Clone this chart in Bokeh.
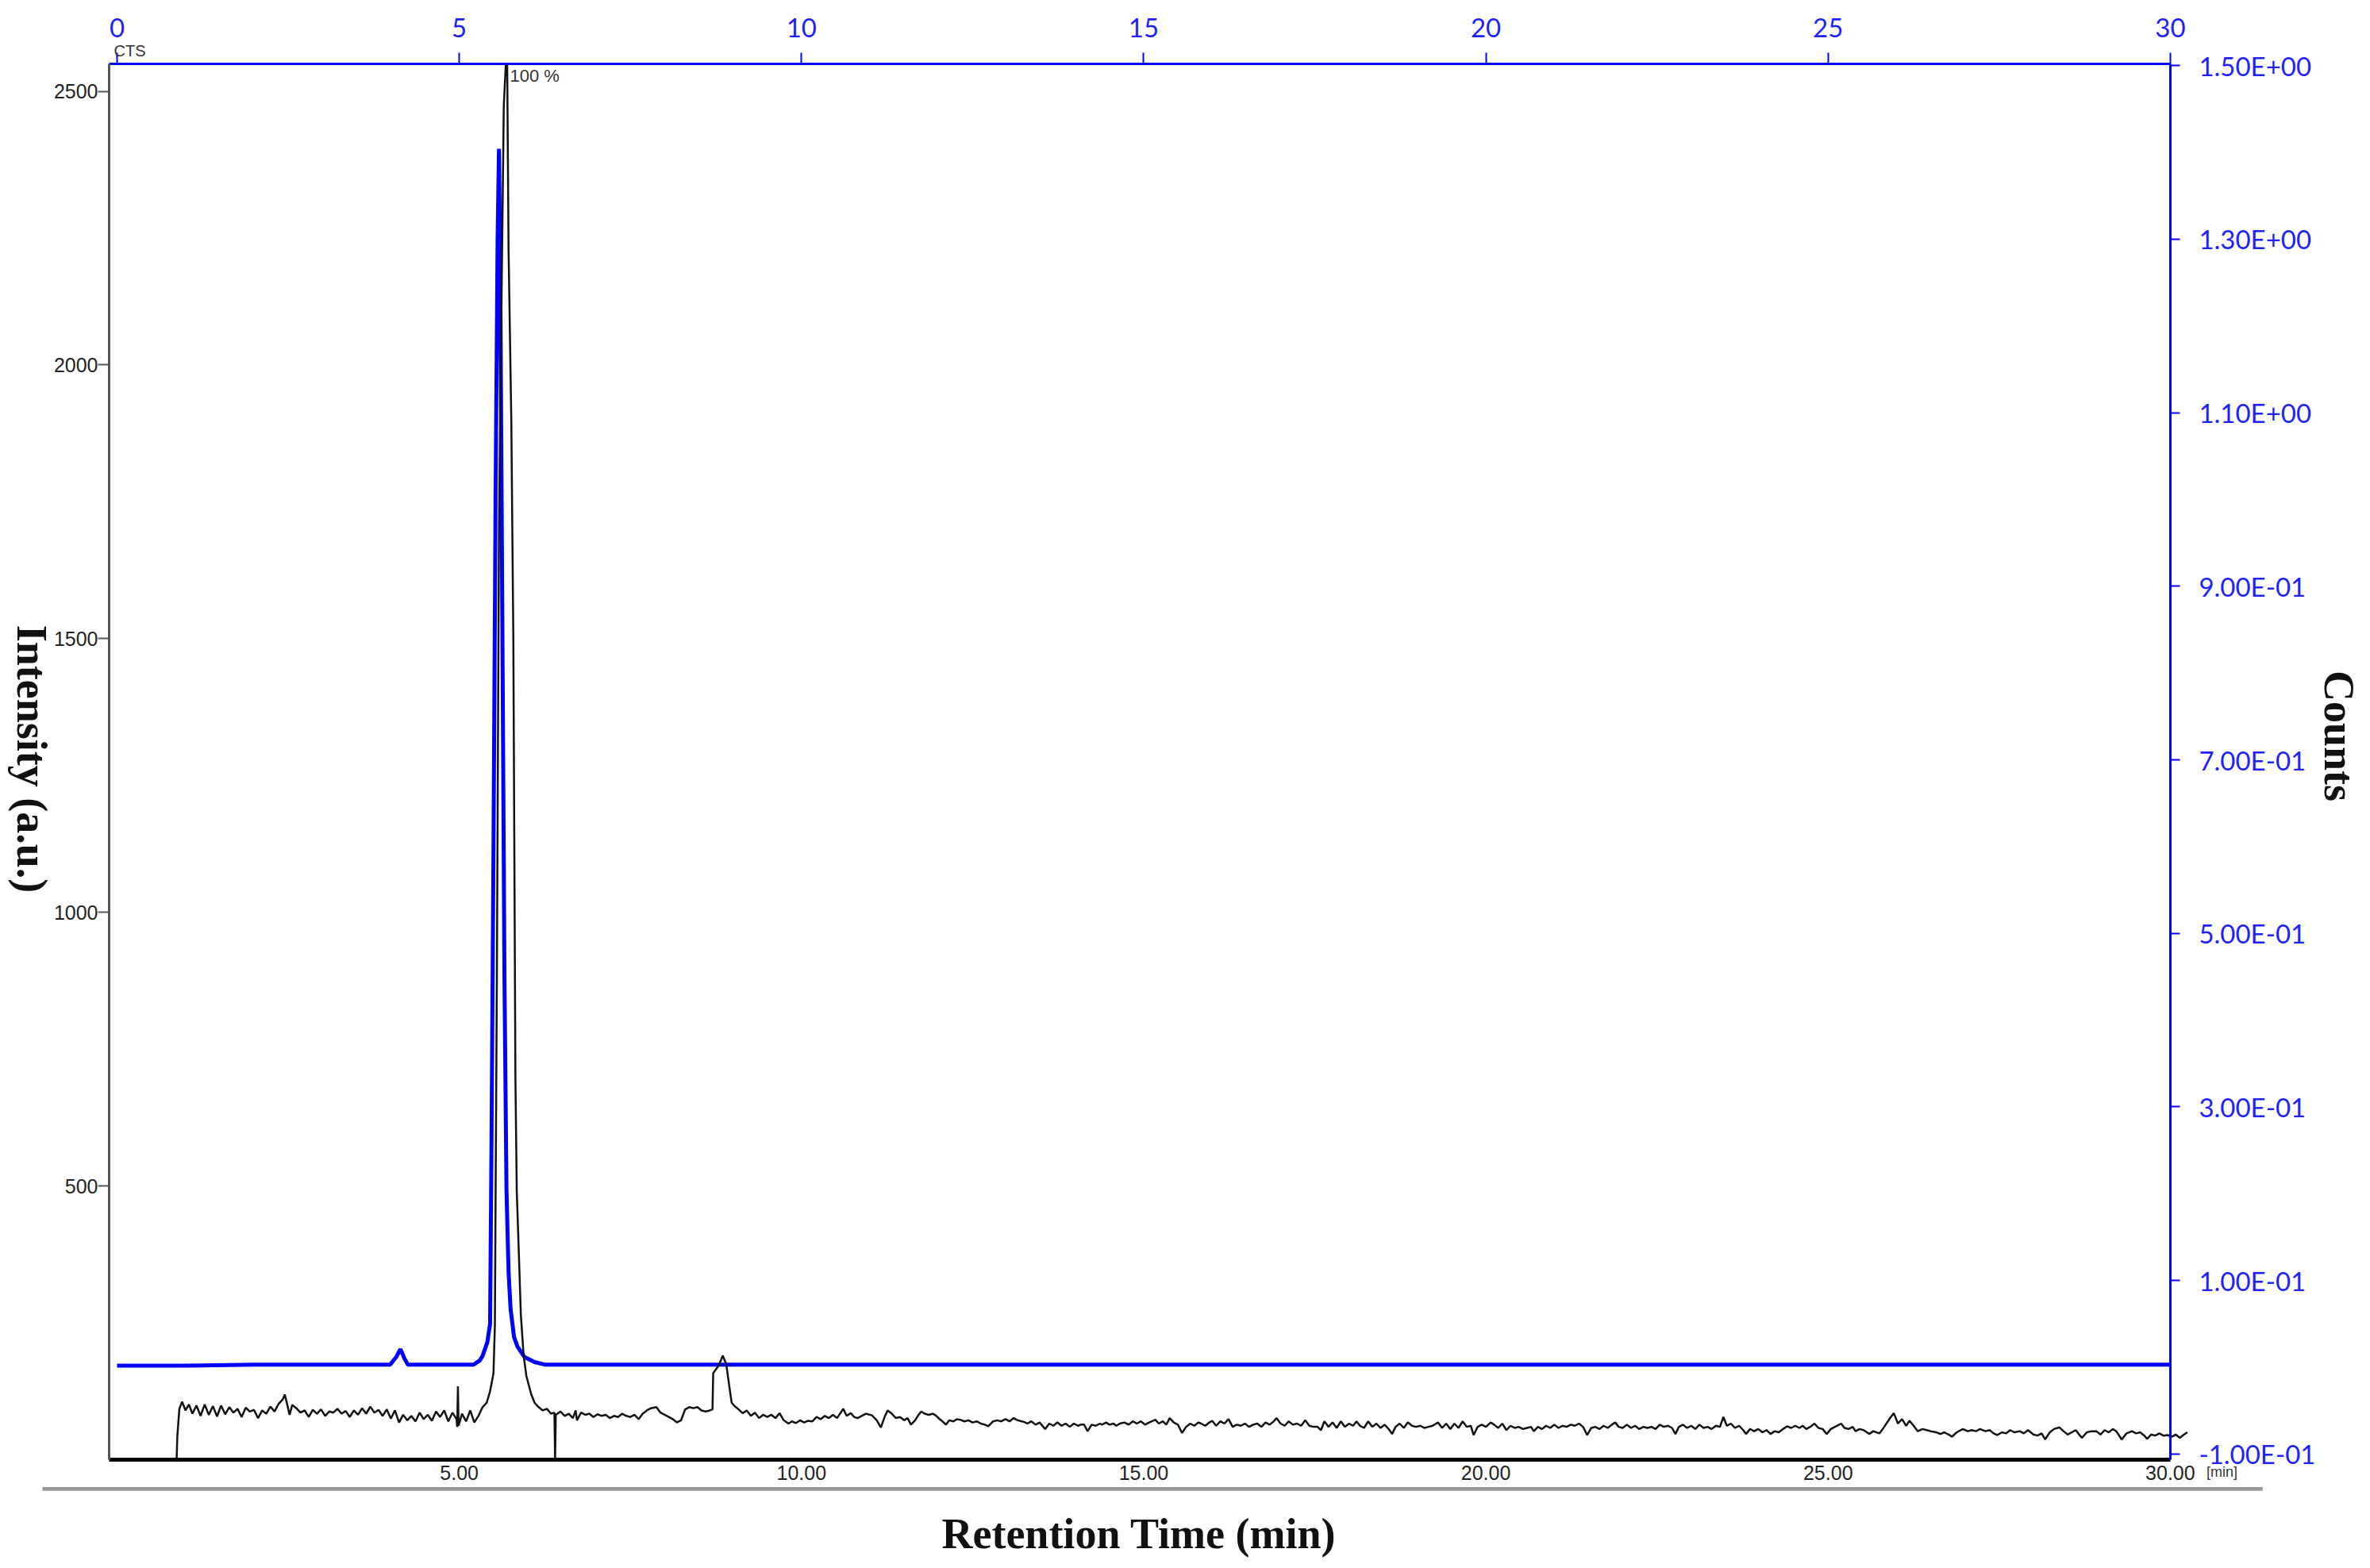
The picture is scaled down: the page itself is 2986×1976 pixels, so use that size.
import math
from bokeh.plotting import figure
from bokeh.models import (LinearAxis, Range1d, FixedTicker, NumeralTickFormatter,
                          CustomJSTickFormatter, Label, BoxAnnotation)
from bokeh.embed import file_html
from bokeh.resources import INLINE

# ---------------- data ----------------
bottom_ticks = [5, 10, 15, 20, 25, 30]
left_ticks = [500, 1000, 1500, 2000, 2500]
top_ticks = [0, 5, 10, 15, 20, 25, 30]
right_ticks = [-0.1, 0.1, 0.3, 0.5, 0.7, 0.9, 1.1, 1.3, 1.5]

black_time = [
    0.87, 0.88, 0.91, 0.95, 1.00, 1.05, 1.10, 1.16, 1.22, 1.28, 1.34, 1.40, 1.46, 1.52, 1.58, 1.64,
    1.70, 1.76, 1.82, 1.88, 1.94, 2.00, 2.06, 2.12, 2.18, 2.24, 2.30, 2.36, 2.42, 2.45, 2.48, 2.52,
    2.56, 2.62, 2.68, 2.74, 2.80, 2.86, 2.92, 2.98, 3.04, 3.10, 3.16, 3.22, 3.28, 3.34, 3.40, 3.46,
    3.52, 3.58, 3.64, 3.70, 3.76, 3.82, 3.88, 3.94, 4.00, 4.06, 4.12, 4.18, 4.24, 4.30, 4.36, 4.42,
    4.48, 4.54, 4.60, 4.66, 4.72, 4.78, 4.84, 4.90, 4.96, 4.97, 4.98, 4.99, 5.04, 5.10, 5.16, 5.22,
    5.28, 5.34, 5.40, 5.45, 5.50, 5.52, 5.55, 5.58, 5.62, 5.65, 5.68, 5.70, 5.72, 5.76, 5.79, 5.82,
    5.84, 5.87, 5.90, 5.94, 5.98, 6.05, 6.10, 6.16, 6.22, 6.28, 6.34, 6.39, 6.40, 6.41,
    6.48, 6.54, 6.60, 6.66, 6.70, 6.72, 6.78, 6.84, 6.90, 6.96, 7.02, 7.08, 7.14, 7.20, 7.26, 7.32,
    7.38, 7.44, 7.50, 7.56, 7.62, 7.68, 7.74, 7.80, 7.88, 7.94, 8.00, 8.06, 8.12, 8.18, 8.24, 8.30,
    8.36, 8.42, 8.48, 8.54, 8.60, 8.66, 8.70, 8.71, 8.79, 8.85, 8.90, 8.95, 8.98, 9.03, 9.08, 9.14,
    9.20, 9.26, 9.32, 9.38, 9.44, 9.50, 9.56, 9.62, 9.68, 9.74, 9.81, 9.86, 9.92, 9.98, 10.04, 10.09,
    10.16, 10.22, 10.28, 10.34, 10.40, 10.46, 10.52, 10.61, 10.66, 10.72, 10.77, 10.82, 10.88, 10.94,
    11.03, 11.10, 11.16, 11.22, 11.26, 11.32, 11.38, 11.44, 11.50, 11.55, 11.60, 11.66, 11.70, 11.75,
    11.80, 11.86, 11.92, 11.96, 12.02, 12.06, 12.11, 12.16, 12.22, 12.27, 12.32, 12.38, 12.44, 12.50,
    12.56, 12.62, 12.68, 12.73, 12.80, 12.86, 12.92, 12.98, 13.04, 13.10, 13.16, 13.22, 13.25, 13.30,
    13.36, 13.42, 13.48, 13.56, 13.62, 13.68, 13.74, 13.80, 13.86, 13.92, 13.98, 14.04, 14.08, 14.13,
    14.18, 14.24, 14.30, 14.36, 14.39, 14.45, 14.50, 14.56, 14.60, 14.65, 14.72, 14.78, 14.84, 14.90,
    14.96, 15.02, 15.08, 15.17, 15.22, 15.28, 15.33, 15.38, 15.44, 15.50, 15.56, 15.62, 15.68, 15.74,
    15.80, 15.84, 15.90, 15.96, 16.00,
    16.06, 16.12, 16.18, 16.24, 16.30, 16.36, 16.42, 16.48, 16.54, 16.60, 16.66, 16.72, 16.78, 16.84,
    16.90, 16.94, 17.00, 17.06, 17.12, 17.18, 17.24, 17.30, 17.36, 17.42, 17.48, 17.54, 17.59, 17.64,
    17.70, 17.76, 17.82, 17.88, 17.94, 18.00, 18.06, 18.11, 18.16, 18.22, 18.28, 18.34, 18.40, 18.46,
    18.52, 18.58, 18.63, 18.68, 18.74, 18.80, 18.86, 18.92, 18.98, 19.04, 19.10, 19.16, 19.22, 19.30,
    19.36, 19.42, 19.48, 19.54, 19.60, 19.66, 19.72, 19.78, 19.82, 19.88, 19.94, 20.00, 20.07, 20.12,
    20.18, 20.24, 20.30, 20.36, 20.42, 20.48, 20.54, 20.60, 20.66, 20.70, 20.76, 20.82, 20.88, 20.94,
    21.00, 21.06, 21.12, 21.18, 21.24, 21.30, 21.36, 21.42, 21.48, 21.54, 21.60, 21.66, 21.72, 21.78,
    21.84, 21.89, 21.94, 22.00, 22.06, 22.12, 22.18, 22.24, 22.30, 22.36, 22.42, 22.48, 22.54, 22.60,
    22.66, 22.72, 22.77, 22.82, 22.88, 22.94, 23.00, 23.06, 23.12, 23.18, 23.24, 23.30, 23.36, 23.42,
    23.47, 23.52, 23.58, 23.64, 23.70, 23.76, 23.80, 23.86, 23.92, 23.98, 24.04, 24.10, 24.16,
    24.22, 24.28, 24.34, 24.40, 24.46, 24.52, 24.58, 24.63, 24.68, 24.74, 24.80, 24.86, 24.92, 24.98,
    25.04, 25.10, 25.19, 25.24, 25.30, 25.36, 25.40, 25.46, 25.52, 25.60, 25.66, 25.75, 25.82, 25.90,
    25.96, 26.02, 26.08, 26.14, 26.19, 26.25, 26.31, 26.38, 26.44, 26.50, 26.58, 26.64, 26.70, 26.76,
    26.81, 26.88, 26.97, 27.04, 27.10, 27.16, 27.22, 27.30, 27.36, 27.42, 27.47, 27.54, 27.60, 27.66,
    27.72, 27.80, 27.86, 27.92, 28.00, 28.06, 28.12, 28.17, 28.24, 28.30, 28.38, 28.44, 28.50, 28.56,
    28.62, 28.68, 28.71, 28.78, 28.85, 28.92, 28.98, 29.04, 29.10, 29.16, 29.21, 29.29, 29.36, 29.44,
    29.50, 29.56, 29.62, 29.66, 29.72, 29.78, 29.84, 29.90, 29.96, 30.02, 30.08, 30.14, 30.20, 30.25,
]
black_intensity = [
    0, 42, 93, 106, 90, 101, 84, 99, 80, 101, 82, 98, 79, 99, 83, 96,
    86, 93, 78, 95, 88, 91, 76, 90, 84, 97, 88, 102, 110, 119, 104, 82,
    100, 94, 86, 90, 78, 91, 84, 92, 80, 88, 86, 93, 84, 89, 78, 90,
    82, 94, 84, 97, 86, 91, 80, 92, 75, 90, 68, 82, 72, 80, 70, 86,
    74, 82, 71, 88, 78, 90, 70, 86, 74, 60, 134, 62, 84, 70, 90, 68,
    80, 96, 104, 125, 158, 245, 900, 1700, 2150, 2472, 2550, 2550, 2212, 1900, 1500, 700,
    491, 378, 264, 191, 153, 120, 104, 96, 90, 93, 84, 86, 0, 82,
    88, 80, 84, 76, 90, 72, 86, 82, 84, 78, 83, 80, 82, 76, 80, 78,
    84, 80, 78, 82, 74, 84, 90, 94, 96, 86, 82, 78, 74, 68, 72, 92,
    96, 94, 96, 90, 88, 90, 92, 158, 172, 190, 175, 130, 104, 97, 92, 85,
    90, 80, 86, 76, 82, 78, 82, 76, 85, 72, 66, 70, 67, 72, 68, 71,
    70, 78, 74, 80, 76, 82, 76, 93, 80, 85, 78, 76, 80, 84,
    81, 72, 59, 80, 90, 84, 76, 78, 72, 76, 64, 72, 80, 88,
    84, 82, 84, 81, 74, 70, 64, 72, 70, 74, 73, 70, 72, 68,
    70, 66, 64, 61, 70, 72, 70, 74, 70, 76, 72, 70, 69, 66,
    70, 64, 68, 56, 66, 62, 68, 62, 66, 60, 66, 62, 64, 64,
    52, 64, 62, 66, 64, 68, 64, 66, 62, 66, 68, 64, 70, 66,
    70, 64, 68, 73, 66, 70, 64, 76, 68, 64, 49, 60, 66, 62,
    68, 66, 62, 68, 71,
    62, 70, 66, 74, 60, 64, 62, 66, 60, 64, 66, 60, 68, 64,
    70, 76, 66, 62, 70, 64, 66, 62, 72, 62, 60, 60, 54, 70,
    60, 68, 58, 70, 60, 66, 62, 70, 62, 58, 70, 60, 66, 58,
    64, 56, 47, 60, 66, 58, 68, 62, 60, 62, 58, 60, 62, 68,
    58, 66, 56, 66, 58, 70, 60, 62, 45, 60, 64, 60, 68, 64,
    58, 66, 54, 62, 58, 60, 56, 58, 60, 52, 60, 56, 62, 58,
    64, 58, 62, 60, 64, 62, 66, 60, 45, 58, 60, 56, 62, 58,
    64, 68, 60, 58, 64, 58, 62, 56, 60, 58, 60, 56, 64, 60,
    62, 58, 47, 60, 64, 58, 62, 56, 64, 58, 60, 56, 62, 60,
    78, 62, 66, 58, 62, 54, 47, 56, 52, 56, 50, 54, 47,
    52, 50, 56, 61, 58, 62, 58, 62, 56, 60, 66, 58, 56, 47,
    56, 60, 66, 58, 56, 60, 52, 56, 54, 47, 52, 48, 60, 75,
    85, 66, 74, 62, 71, 62, 52, 56, 54, 52, 50, 47, 50, 46,
    42, 50, 56, 52, 54, 52, 56, 52, 54, 48, 45, 50, 48, 54,
    50, 52, 48, 54, 46, 44, 48, 37, 50, 56, 59, 52, 46, 50,
    54, 44, 40, 50, 52, 52, 46, 54, 50, 56, 52, 37, 48, 52,
    48, 50, 44, 38, 46, 44, 48, 44, 45, 42, 46, 40, 46, 50,
]

blue_time = [0.0, 1.0, 2.0, 3.0, 3.99, 4.08, 4.14, 4.20, 4.25, 5.00, 5.21, 5.30, 5.34, 5.41,
             5.45, 5.47, 5.50, 5.53, 5.56, 5.58, 5.60, 5.63, 5.66, 5.69, 5.72, 5.75, 5.80, 5.85,
             5.95, 6.10, 6.26, 8.0, 10.0, 15.0, 20.0, 25.0, 30.0]
blue_counts = [0.002, 0.002, 0.003, 0.003, 0.003, 0.012, 0.021, 0.010, 0.003, 0.003, 0.003, 0.008,
               0.013, 0.029, 0.050, 0.250, 0.600, 1.000, 1.300, 1.404, 1.250, 0.850, 0.450, 0.204,
               0.110, 0.067, 0.035, 0.024, 0.012, 0.006, 0.003, 0.003, 0.003, 0.003, 0.003, 0.003,
               0.003]

# axis extents of the chromatogram box (data units)
X_START, X_END = -0.116, 30.0
I_TOP = 2550
C_BOTTOM, C_TOP = -0.1064, 1.5018

BLUE = "#0000ff"
BLUE_TXT = "#1f1fff"

p = figure(width=2980, height=1970, output_backend="svg", toolbar_location=None,
           x_range=Range1d(-1.7048, 32.854), y_range=Range1d(-189.9, 2666.0),
           x_axis_location=None, y_axis_location=None,
           min_border=0, min_border_left=0, min_border_right=0,
           min_border_top=0, min_border_bottom=0)
p.outline_line_color = None
p.xgrid.visible = False
p.ygrid.visible = False
p.background_fill_color = "white"
p.border_fill_color = "white"
p.extra_y_ranges = {"blue": Range1d(-0.2262, 1.575)}

# black axes (bottom & left)
bottom = LinearAxis(ticker=FixedTicker(ticks=bottom_ticks), formatter=NumeralTickFormatter(format="0.00"),
                    fixed_location=0, bounds=(X_START, X_END))
bottom.axis_line_color = "#000000"
bottom.axis_line_width = 5
bottom.major_tick_out = 0
bottom.major_tick_in = 0
bottom.minor_tick_out = 0
bottom.minor_tick_in = 0
bottom.major_label_standoff = 7
bottom.major_label_text_font = "Liberation Sans"
bottom.major_label_text_font_size = "25px"
bottom.major_label_text_color = "#222222"
p.add_layout(bottom, "below")

left = LinearAxis(ticker=FixedTicker(ticks=left_ticks), fixed_location=X_START, bounds=(0, I_TOP))
left.axis_line_color = "#555555"
left.axis_line_width = 3
left.major_tick_line_color = "#555555"
left.major_tick_line_width = 2
left.major_tick_out = 14
left.major_tick_in = 0
left.minor_tick_out = 0
left.minor_tick_in = 0
left.major_label_standoff = 0
left.major_label_text_font = "Liberation Sans"
left.major_label_text_font_size = "25px"
left.major_label_text_color = "#222222"
p.add_layout(left, "left")

# blue axes (top & right)
top = LinearAxis(ticker=FixedTicker(ticks=top_ticks), fixed_location=I_TOP, bounds=(X_START, X_END))
top.axis_line_color = BLUE
top.axis_line_width = 3
top.major_tick_line_color = BLUE
top.major_tick_line_width = 2
top.major_tick_out = 14
top.major_tick_in = 0
top.minor_tick_out = 0
top.minor_tick_in = 0
top.major_label_standoff = 20
top.major_label_text_font = "Lato"
top.major_label_text_font_size = "33px"
top.major_label_text_color = BLUE_TXT
p.add_layout(top, "above")

fmt = CustomJSTickFormatter(code="""
const s = tick.toExponential(2);
const parts = s.split('e');
const n = parseInt(parts[1]);
const a = Math.abs(n);
return parts[0] + 'E' + (n < 0 ? '-' : '+') + (a < 10 ? '0' : '') + a;
""")
right = LinearAxis(y_range_name="blue", ticker=FixedTicker(ticks=right_ticks), formatter=fmt,
                   fixed_location=X_END, bounds=(C_BOTTOM, C_TOP))
right.axis_line_color = BLUE
right.axis_line_width = 3
right.major_tick_line_color = BLUE
right.major_tick_line_width = 2
right.major_tick_out = 12
right.major_tick_in = 0
right.minor_tick_out = 0
right.minor_tick_in = 0
right.major_label_standoff = 24
right.major_label_text_font = "Lato"
right.major_label_text_font_size = "33px"
right.major_label_text_color = BLUE_TXT
p.add_layout(right, "right")

# traces
p.line(blue_time, blue_counts, y_range_name="blue", line_color=BLUE, line_width=5)
p.line(black_time, black_intensity, line_color="#111111", line_width=2.5)

# grey rule under the axis
p.add_layout(BoxAnnotation(left=-1.09, right=31.35, top=-50, bottom=-57,
                           fill_color="#9a9a9a", fill_alpha=1.0, line_color=None))

# titles and small texts
title_font = "Liberation Serif"
p.add_layout(Label(x=14.93, y=-136, text="Retention Time (min)", text_align="center",
                   text_baseline="middle", text_font=title_font, text_font_style="bold",
                   text_font_size="54px", text_color="#111111"))
p.add_layout(Label(x=-1.25, y=1280, text="Intensity (a.u.)", text_align="center",
                   text_baseline="middle", angle=-math.pi / 2, text_font=title_font,
                   text_font_style="bold", text_font_size="54px", text_color="#111111"))
p.add_layout(Label(x=32.46, y=1322, text="Counts", text_align="center",
                   text_baseline="middle", angle=-math.pi / 2, text_font=title_font,
                   text_font_style="bold", text_font_size="54px", text_color="#111111"))
p.add_layout(Label(x=-0.046, y=2574, text="CTS", text_align="left", text_baseline="middle",
                   text_font="Liberation Sans", text_font_size="20px", text_color="#333333"))
p.add_layout(Label(x=5.74, y=2528, text="100 %", text_align="left", text_baseline="middle",
                   text_font="Liberation Sans", text_font_size="22px", text_color="#333333"))
p.add_layout(Label(x=30.53, y=-23, text="[min]", text_align="left", text_baseline="middle",
                   text_font="Liberation Sans", text_font_size="18px", text_color="#333333"))

open("out.html", "w").write(file_html(p, INLINE))
